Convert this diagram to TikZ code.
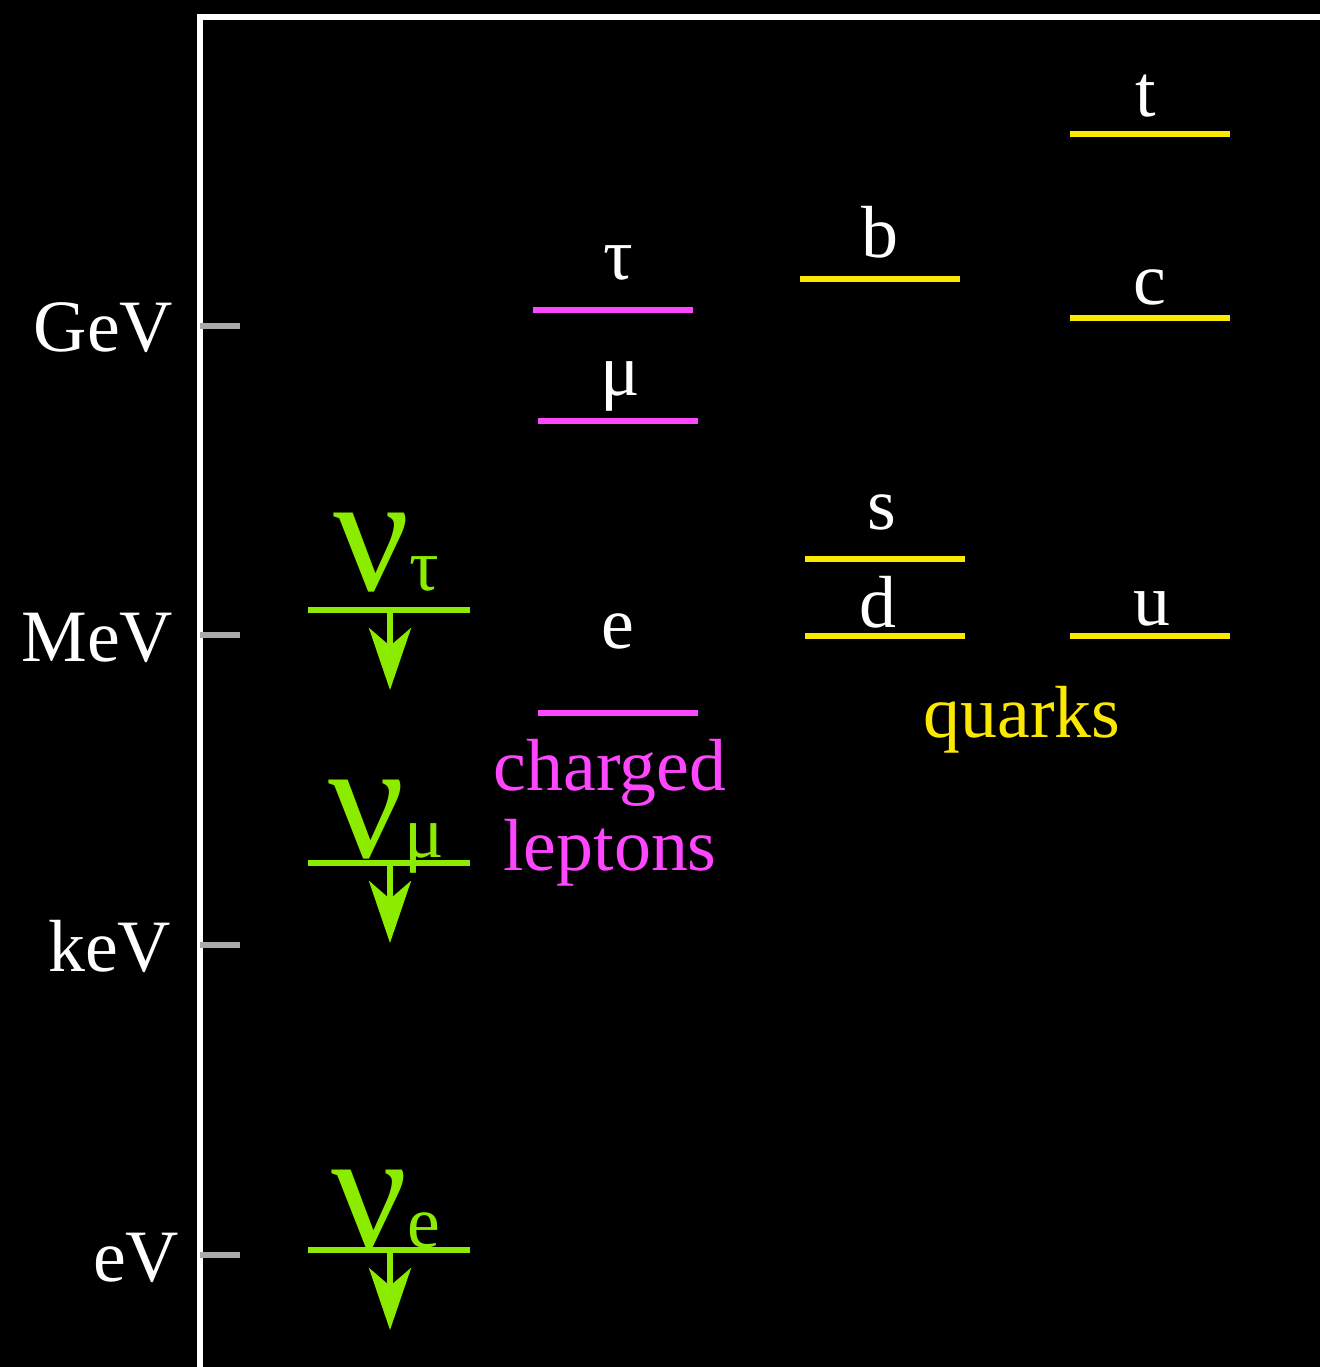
\documentclass[tikz,border=0pt]{standalone}
\usepackage{fontspec}
\setmainfont{Liberation Serif}
\usetikzlibrary{positioning, arrows.meta}
\definecolor{NuGreen}{RGB}{140, 236, 0}
\definecolor{LeptonPink}{RGB}{255, 70, 255}
\definecolor{QuarkYellow}{RGB}{250, 232, 0}
\definecolor{TickGray}{RGB}{170, 170, 170}

\begin{document}
\begin{tikzpicture}[x=0.01cm, y=-0.01cm,
      axis/.style={draw=white, line width=1.5pt},
      tick/.style={draw=TickGray, line width=1.6pt},
      unit/.style={text=white, font=\fontsize{21}{25}\selectfont, anchor=base east, inner sep=0pt},
      plabel/.style={text=white, font=\fontsize{21}{25}\selectfont, anchor=base, inner sep=0pt},
      lepline/.style={draw=LeptonPink, line width=1.8pt},
      quarkline/.style={draw=QuarkYellow, line width=1.8pt},
      nuline/.style={draw=NuGreen, line width=1.6pt},
      nuarrow/.style={draw=NuGreen, fill=NuGreen, line width=1.5pt, -{Stealth[length=0.62cm, width=0.42cm, inset=0.18cm]}},
      nulabel/.style={text=NuGreen, font=\fontsize{48}{50}\selectfont, anchor=base, inner sep=0pt},
      group/.style={font=\fontsize{21}{22}\selectfont, anchor=base, inner sep=0pt, align=center}
    ]
      \fill[black] (0,0) rectangle (1320,1367);
      \useasboundingbox (0,0) rectangle (1320,1367);

      % energy axis
      \draw[axis] (200,1367) -- (200,17) -- (1320,17);
      \foreach \y/\u/\r in {326/GeV/174, 635/MeV/174, 945/keV/172, 1255/eV/180} {
        \draw[tick] (200,\y) -- (240,\y);
        \node[unit] (\u) at (\r,\y+26) {\u};
      }

      % neutrinos
      \foreach \y/\s/\b/\n in {610/τ/590/nutau, 863/μ/857/numu, 1250/e/1247/nue} {
        \draw[nuline] (308,\y) -- (470,\y);
        \node[nulabel] (\n) at (386,\b) {ν{\fontsize{21}{25}\selectfont\s}};
        \coordinate (\n top) at (390,\y);
        \coordinate (\n tip) at (390,\y+80);
        \draw[nuarrow] (\n top) -- (\n tip);
      }

      % charged leptons
      \draw[lepline] (533,310) -- (693,310);
      \draw[lepline] (538,421) -- (698,421);
      \draw[lepline] (538,713) -- (698,713);
      \node[plabel] (tau) at (618,280) {τ};
      \node[plabel] (mu) at (620,396) {μ};
      \node[plabel] (e) at (618,648) {e};
      \node[group, text=LeptonPink] (leptons) at (610,790) {charged};
      \node[group, text=LeptonPink, below=0.8cm of leptons.base, anchor=base] (leptons2) {leptons};

      % quarks
      \draw[quarkline] (1070,134) -- (1230,134);
      \draw[quarkline] (800,279) -- (960,279);
      \draw[quarkline] (1070,318) -- (1230,318);
      \draw[quarkline] (805,559) -- (965,559);
      \draw[quarkline] (805,636) -- (965,636);
      \draw[quarkline] (1070,636) -- (1230,636);
      \node[plabel] (t) at (1146,117) {t};
      \node[plabel] (b) at (880,258) {b};
      \node[plabel] (c) at (1150,305) {c};
      \node[plabel] (s) at (882,529) {s};
      \node[plabel] (d) at (878,627) {d};
      \node[plabel] (u) at (1152,625) {u};
      \node[group, text=QuarkYellow] (quarks) at (1022,737) {quarks};
\end{tikzpicture}
\end{document}
